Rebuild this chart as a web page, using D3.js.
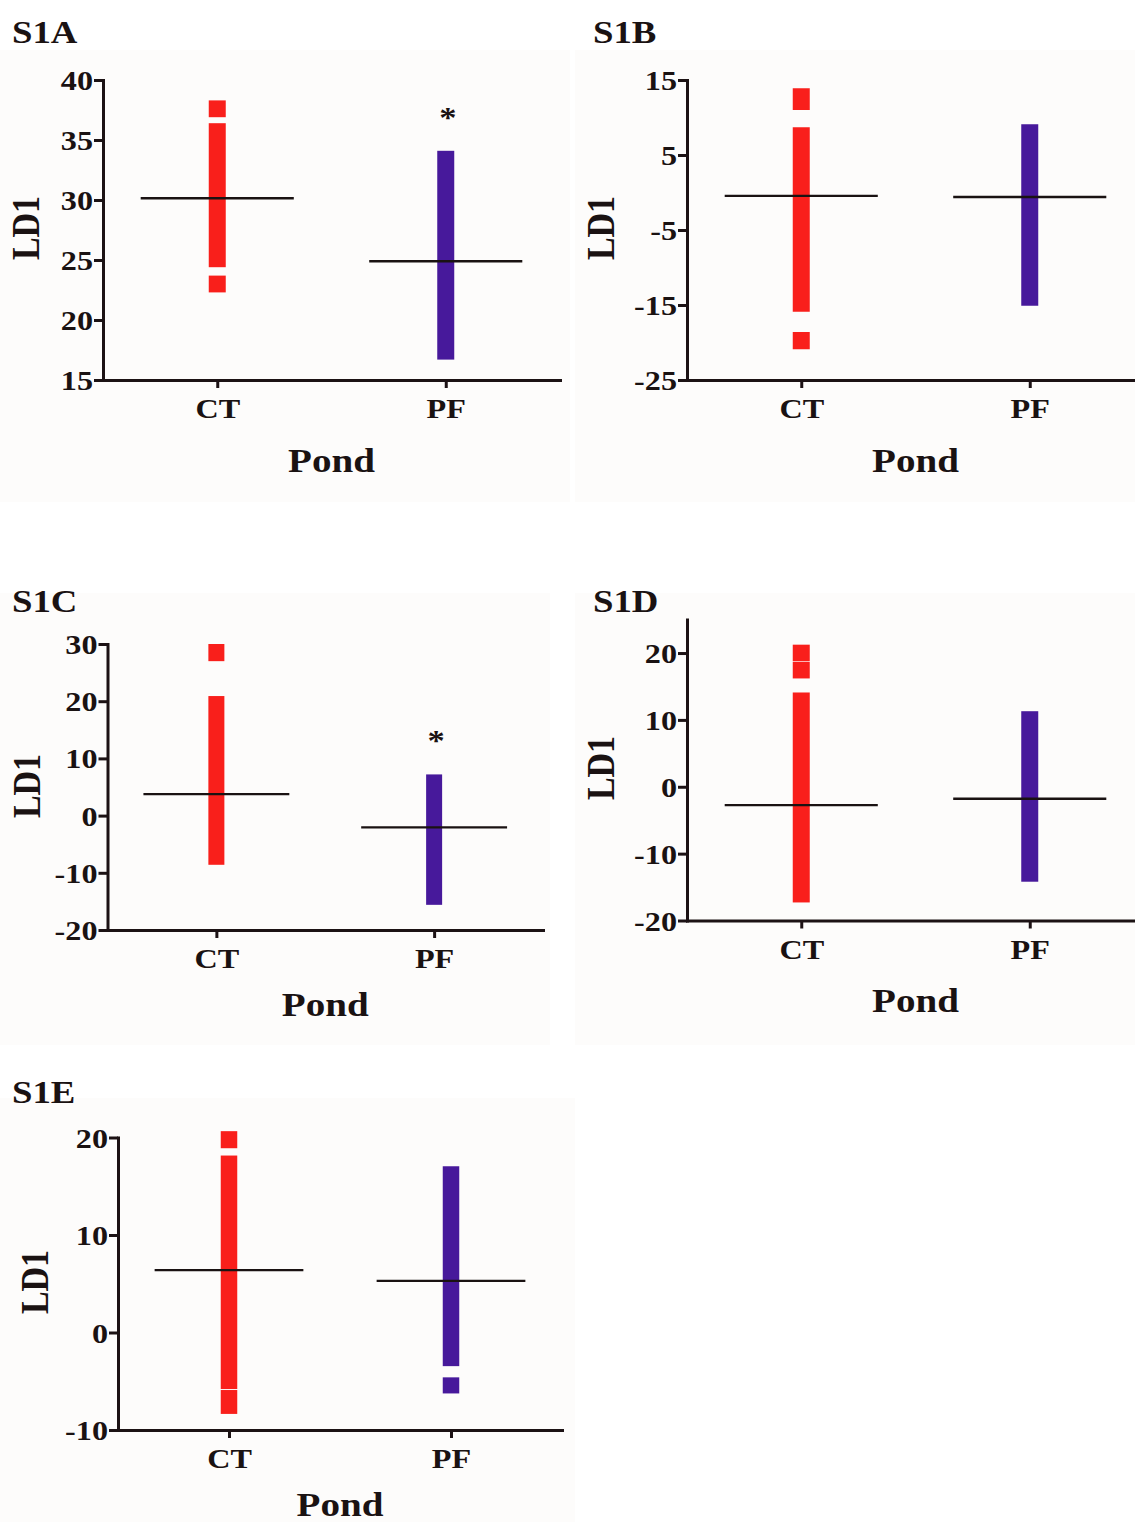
<!DOCTYPE html>
<html>
<head>
<meta charset="utf-8">
<script src="https://cdn.jsdelivr.net/npm/d3@7"></script>
<style>
  html, body { margin: 0; padding: 0; background: #ffffff; }
  svg { display: block; }
  text { font-family: "Liberation Serif", "Times New Roman", serif; font-weight: bold; fill: #1a1212; }
</style>
</head>
<body>
<svg id="chart" width="1135" height="1522"></svg>
<script>
// ---------- DATA ----------
const panelTitles = ["S1A", "S1B", "S1C", "S1D", "S1E"];
const categories = ["CT", "PF"];
const xAxisTitle = "Pond";
const yAxisTitle = "LD1";

const yDomains = [[15, 40], [-25, 15], [-20, 30], [-20, 25], [-10, 20]];
const yTickValues = [
  [15, 20, 25, 30, 35, 40],
  [-25, -15, -5, 5, 15],
  [-20, -10, 0, 10, 20, 30],
  [-20, -10, 0, 10, 20],
  [-10, 0, 10, 20]
];

// extents [low, high] of the stacked CT points (visually continuous columns)
const ctSegments = [
  [[36.9, 38.3], [24.4, 36.4], [22.3, 23.7]],
  [[11.0, 13.9], [-15.9, 8.7], [-20.9, -18.6]],
  [[27.0, 30.0], [-8.6, 20.9]],
  [[18.8, 21.25], [16.2, 18.7], [-17.3, 14.1]],
  [[-5.8, 18.15], [18.9, 20.65], [-8.35, -5.9]]
];
// extents [low, high] of the stacked PF points
const pfSegments = [
  [[16.7, 34.1]],
  [[-15.1, 9.1]],
  [[-15.6, 7.2]],
  [[-14.2, 11.3]],
  [[-3.45, 17.05], [-6.25, -4.6]]
];
const ctMeans = [30.15, -0.45, 3.75, -2.75, 6.4];
const pfMeans = [24.9, -0.6, -2.05, -1.8, 5.3];
const pfSignificance = ["*", "", "*", "", ""];

// ---------- LAYOUT / STYLE ----------
const layout = [
  { title: [12, 43],   x: [103, 560],   y: [380, 80],      ld1: [26, 228],  pondY: 472,  barW: 17,   bg: [0, 50, 570, 452] },
  { title: [593, 43],  x: [687, 1144],  y: [380, 80],      ld1: [601, 228], pondY: 472,  barW: 17,   bg: [575, 50, 560, 452] },
  { title: [12, 612],  x: [107.5, 543], y: [930, 644],     ld1: [27, 786],  pondY: 1016, barW: 16,   bg: [0, 593, 550, 452] },
  { title: [593, 612], x: [687, 1144],  y: [920.5, 619.6], ld1: [601, 768], pondY: 1012, barW: 17,   bg: [575, 593, 560, 452] },
  { title: [12, 1103], x: [118, 562],   y: [1430, 1137.5], ld1: [35, 1282], pondY: 1516, barW: 16.5, bg: [0, 1098, 575, 424] }
];
const colors = { CT: "#f91f1b", PF: "#47199b" };
const axisColor = "#1c1214";
const SX = 1.15; // horizontal stretch of the original figure's lettering

const svg = d3.select("#chart");

function place(sel, x, y, extra) {
  sel.attr("x", 0).attr("y", 0)
     .attr("transform", `translate(${x},${y}) scale(${SX},1)` + (extra || ""));
  return sel;
}

panelTitles.forEach((title, i) => {
  const L = layout[i];
  const g = svg.append("g");

  g.append("rect")
    .attr("x", L.bg[0]).attr("y", L.bg[1]).attr("width", L.bg[2]).attr("height", L.bg[3])
    .attr("fill", "#fdfcfb");

  const x = d3.scalePoint().domain(categories).range(L.x).padding(0.5);
  const y = d3.scaleLinear().domain(yDomains[i]).range(L.y);

  // Y axis
  const yAxis = g.append("g")
    .attr("transform", `translate(${L.x[0]},0)`)
    .call(d3.axisLeft(y).tickValues(yTickValues[i]).tickSize(9).tickSizeOuter(0).tickPadding(2)
      .tickFormat(d => String(d)));
  yAxis.select(".domain").attr("stroke", axisColor).attr("stroke-width", 3).attr("stroke-linecap", "square");
  yAxis.selectAll(".tick line").attr("stroke", axisColor).attr("stroke-width", 3);
  yAxis.selectAll(".tick text").each(function () {
    const t = d3.select(this);
    t.attr("font-size", 28).attr("font-family", null).attr("fill", "#1a1212")
     .attr("text-anchor", "end").attr("dy", "0.34em");
    place(t, -10, 0);
  });

  // X axis
  const xAxis = g.append("g")
    .attr("transform", `translate(0,${L.y[0]})`)
    .call(d3.axisBottom(x).tickSize(8).tickSizeOuter(0));
  xAxis.select(".domain").attr("stroke", axisColor).attr("stroke-width", 3).attr("stroke-linecap", "square");
  xAxis.selectAll(".tick line").attr("stroke", axisColor).attr("stroke-width", 3);
  xAxis.selectAll(".tick text").each(function () {
    const t = d3.select(this);
    t.attr("font-size", 28).attr("font-family", null).attr("fill", "#1a1212")
     .attr("text-anchor", "middle").attr("dy", 0);
    place(t, 0, 38);
  });

  // stacked point columns
  const cols = [
    { cat: "CT", segs: ctSegments[i] },
    { cat: "PF", segs: pfSegments[i] }
  ];
  cols.forEach(c => {
    g.append("g").selectAll("rect").data(c.segs).join("rect")
      .attr("x", x(c.cat) - L.barW / 2)
      .attr("width", L.barW)
      .attr("y", d => y(d[1]))
      .attr("height", d => y(d[0]) - y(d[1]))
      .attr("fill", colors[c.cat]);
  });

  // mean lines
  const half = x.step() * 0.335;
  const means = [{ cat: "CT", v: ctMeans[i] }, { cat: "PF", v: pfMeans[i] }];
  g.append("g").selectAll("line").data(means).join("line")
    .attr("x1", d => x(d.cat) - half).attr("x2", d => x(d.cat) + half)
    .attr("y1", d => y(d.v)).attr("y2", d => y(d.v))
    .attr("stroke", "#1a1212").attr("stroke-width", 2.4);

  // significance
  if (pfSignificance[i]) {
    const top = d3.max(pfSegments[i], d => d[1]);
    place(g.append("text").text(pfSignificance[i])
      .attr("font-size", 30).attr("text-anchor", "middle"),
      x("PF") + 2, y(top) - 24);
  }

  // titles
  place(g.append("text").text(title).attr("font-size", 32), L.title[0], L.title[1]);
  place(g.append("text").text(xAxisTitle).attr("font-size", 34).attr("text-anchor", "middle"),
    (L.x[0] + L.x[1]) / 2, L.pondY);
  place(g.append("text").text(yAxisTitle).attr("font-size", 34).attr("text-anchor", "middle")
    .attr("dy", "0.33em"), L.ld1[0], L.ld1[1], " rotate(-90)");
});
</script>
</body>
</html>
